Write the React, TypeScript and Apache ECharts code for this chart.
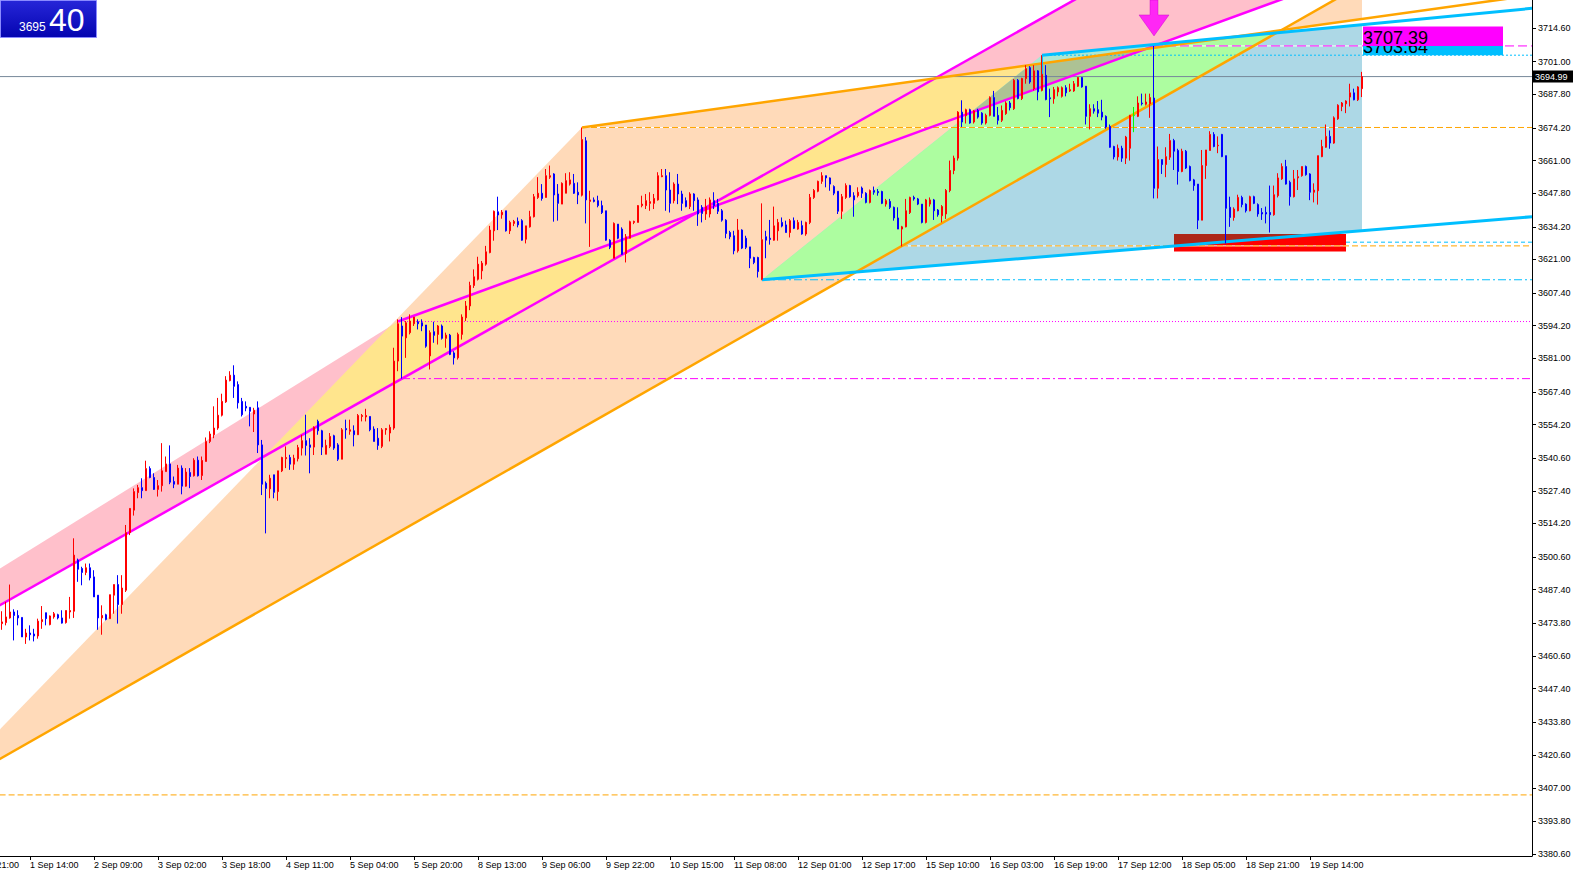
import React, { useEffect, useRef } from "react";
import * as echarts from "echarts";

type P = [number, number];

// H1 candles, [open, close, low, high]
const bars: number[][] = [
  [3473.7, 3474.4, 3471.2, 3478.7], [3474.1, 3476.4, 3473.0, 3482.5], [3476.0, 3478.4, 3475.7, 3489.5], [3478.4, 3477.0, 3466.9, 3479.5],
  [3477.0, 3476.0, 3473.0, 3479.1], [3476.2, 3468.3, 3468.3, 3476.2], [3468.3, 3469.9, 3465.5, 3471.6], [3469.9, 3469.2, 3466.9, 3473.0],
  [3469.5, 3468.7, 3466.5, 3471.6], [3468.7, 3474.7, 3467.6, 3475.7], [3474.5, 3475.3, 3471.6, 3480.8], [3478.1, 3475.7, 3473.0, 3478.1],
  [3473.3, 3476.8, 3473.0, 3477.0], [3476.4, 3477.7, 3475.7, 3478.4], [3477.3, 3476.0, 3475.4, 3477.7], [3476.0, 3473.9, 3473.7, 3479.1],
  [3474.1, 3479.0, 3473.7, 3479.0], [3478.4, 3479.0, 3475.7, 3484.5], [3478.7, 3501.4, 3476.0, 3508.2], [3499.4, 3495.7, 3490.6, 3500.0],
  [3496.0, 3494.4, 3489.2, 3496.7], [3494.4, 3496.3, 3493.3, 3498.0], [3496.3, 3492.2, 3491.2, 3498.0], [3492.6, 3484.5, 3484.5, 3495.3],
  [3485.2, 3476.0, 3471.2, 3485.2], [3476.0, 3477.0, 3469.2, 3481.1], [3477.3, 3475.4, 3475.0, 3477.7], [3475.7, 3485.4, 3475.7, 3485.4],
  [3485.2, 3489.5, 3477.7, 3489.5], [3489.5, 3481.4, 3473.7, 3493.3], [3481.4, 3488.1, 3477.7, 3493.3], [3487.2, 3510.5, 3486.5, 3513.6],
  [3510.5, 3520.3, 3509.5, 3520.3], [3519.6, 3527.1, 3517.4, 3528.4], [3526.7, 3528.7, 3524.4, 3529.8], [3528.7, 3527.5, 3524.4, 3532.5],
  [3527.5, 3536.4, 3527.5, 3539.6], [3536.4, 3532.8, 3532.5, 3537.3], [3532.8, 3528.0, 3527.8, 3534.5], [3528.0, 3529.5, 3525.1, 3531.8],
  [3529.5, 3535.5, 3527.1, 3546.7], [3535.2, 3538.3, 3535.2, 3541.3], [3538.3, 3530.9, 3530.1, 3545.8], [3531.2, 3530.1, 3528.5, 3533.2],
  [3530.1, 3536.6, 3530.1, 3537.9], [3536.6, 3529.3, 3526.0, 3537.7], [3529.3, 3535.0, 3529.1, 3536.6], [3534.8, 3533.2, 3528.5, 3536.6],
  [3533.5, 3539.8, 3533.2, 3540.6], [3539.8, 3533.5, 3533.2, 3541.3], [3533.6, 3539.7, 3531.8, 3541.3], [3539.3, 3547.4, 3539.3, 3549.0],
  [3547.4, 3550.4, 3546.7, 3551.5], [3550.1, 3552.8, 3548.7, 3561.6], [3552.8, 3558.0, 3552.1, 3565.0], [3558.0, 3563.6, 3557.5, 3566.7],
  [3563.4, 3572.2, 3563.0, 3573.8], [3572.0, 3574.2, 3571.7, 3575.8], [3574.2, 3569.7, 3565.0, 3578.2], [3570.4, 3563.0, 3560.7, 3571.7],
  [3563.6, 3558.2, 3557.5, 3565.0], [3561.6, 3560.9, 3559.6, 3563.6], [3561.2, 3559.6, 3553.5, 3561.2], [3558.5, 3560.0, 3551.2, 3561.0],
  [3561.0, 3546.0, 3542.7, 3563.6], [3546.0, 3530.1, 3525.7, 3548.0], [3530.5, 3528.4, 3510.2, 3531.2], [3528.2, 3532.5, 3524.4, 3533.9],
  [3533.9, 3526.8, 3524.4, 3533.9], [3527.1, 3535.5, 3523.4, 3535.5], [3535.5, 3540.9, 3535.0, 3541.2], [3540.4, 3540.9, 3536.6, 3545.4],
  [3540.9, 3538.2, 3535.9, 3542.0], [3538.2, 3540.6, 3535.9, 3542.0], [3540.4, 3544.9, 3539.3, 3546.0], [3544.7, 3547.7, 3541.7, 3550.1],
  [3547.7, 3545.8, 3541.7, 3558.2], [3546.0, 3545.0, 3534.5, 3548.7], [3545.1, 3553.1, 3541.9, 3553.5], [3555.5, 3551.7, 3550.1, 3556.2],
  [3551.7, 3545.1, 3541.9, 3552.1], [3542.2, 3545.8, 3542.2, 3548.1], [3545.4, 3549.4, 3544.7, 3550.8], [3549.7, 3544.7, 3544.0, 3550.1],
  [3546.0, 3540.2, 3539.5, 3546.7], [3540.2, 3552.1, 3540.2, 3552.8], [3552.6, 3552.1, 3548.5, 3556.2], [3551.5, 3552.1, 3550.1, 3556.2],
  [3551.7, 3550.1, 3545.4, 3553.9], [3550.1, 3557.9, 3550.1, 3558.5], [3557.5, 3557.9, 3555.5, 3558.5], [3557.3, 3557.9, 3555.5, 3560.6],
  [3557.5, 3552.1, 3551.5, 3557.5], [3552.4, 3547.4, 3547.4, 3553.5], [3548.7, 3545.8, 3544.0, 3552.8], [3545.4, 3552.1, 3544.7, 3552.8],
  [3552.1, 3552.6, 3550.1, 3552.8], [3550.8, 3553.1, 3547.4, 3554.2], [3552.8, 3579.9, 3552.1, 3585.3], [3579.9, 3595.0, 3575.8, 3596.8],
  [3594.1, 3590.0, 3572.8, 3597.7], [3589.3, 3595.4, 3581.2, 3596.1], [3591.4, 3596.1, 3590.7, 3598.8], [3595.0, 3597.7, 3594.1, 3597.7],
  [3595.8, 3595.0, 3592.7, 3596.8], [3595.4, 3594.1, 3592.0, 3596.8], [3594.5, 3585.9, 3585.3, 3594.5], [3582.0, 3591.4, 3576.5, 3592.3],
  [3591.8, 3590.3, 3587.3, 3595.8], [3590.7, 3594.1, 3586.6, 3594.5], [3594.1, 3589.1, 3588.6, 3594.7], [3589.1, 3590.4, 3585.3, 3591.4],
  [3590.4, 3582.6, 3582.3, 3590.9], [3583.2, 3581.2, 3578.5, 3583.9], [3581.2, 3590.7, 3580.5, 3591.4], [3590.7, 3597.7, 3588.6, 3598.8],
  [3597.4, 3602.2, 3596.1, 3604.2], [3602.2, 3610.5, 3600.5, 3612.0], [3610.5, 3614.0, 3609.5, 3617.0], [3613.0, 3619.1, 3612.5, 3622.1],
  [3616.4, 3619.5, 3613.0, 3620.4], [3619.1, 3624.1, 3618.5, 3626.5], [3623.8, 3632.9, 3623.5, 3634.6], [3632.6, 3640.5, 3628.6, 3640.8],
  [3640.3, 3639.0, 3632.9, 3646.4], [3639.1, 3640.1, 3637.5, 3641.0], [3640.7, 3632.6, 3632.3, 3640.7], [3632.6, 3636.0, 3631.3, 3636.7],
  [3635.6, 3636.4, 3634.5, 3637.0], [3636.4, 3635.0, 3634.0, 3638.0], [3636.7, 3628.8, 3628.6, 3637.3], [3629.2, 3634.6, 3627.5, 3634.6],
  [3634.2, 3638.3, 3633.9, 3640.7], [3638.3, 3646.4, 3638.0, 3647.5], [3646.1, 3647.8, 3645.5, 3654.3], [3647.8, 3645.7, 3644.8, 3651.5],
  [3646.1, 3654.9, 3646.1, 3657.6], [3654.3, 3654.9, 3653.6, 3659.0], [3655.6, 3647.1, 3636.3, 3655.9], [3647.5, 3643.7, 3636.7, 3651.5],
  [3643.4, 3651.8, 3643.4, 3652.2], [3647.8, 3652.9, 3647.8, 3655.9], [3651.5, 3653.2, 3650.9, 3656.3], [3651.8, 3647.8, 3647.5, 3655.6],
  [3648.2, 3647.1, 3643.4, 3652.2], [3647.0, 3669.5, 3646.5, 3674.4], [3669.0, 3645.1, 3635.6, 3670.5], [3644.5, 3645.1, 3626.1, 3648.8],
  [3645.1, 3644.5, 3644.1, 3646.1], [3644.8, 3642.8, 3642.1, 3646.8], [3642.8, 3640.0, 3639.4, 3644.8], [3640.7, 3628.8, 3628.6, 3640.7],
  [3628.8, 3625.9, 3625.2, 3629.2], [3621.5, 3635.6, 3621.5, 3636.0], [3635.3, 3629.6, 3629.2, 3635.3], [3633.3, 3623.1, 3622.9, 3634.0],
  [3623.4, 3630.2, 3619.8, 3631.3], [3629.6, 3636.3, 3629.6, 3636.7], [3636.0, 3636.4, 3635.3, 3636.7], [3636.0, 3642.8, 3636.0, 3643.0],
  [3642.8, 3643.4, 3642.1, 3646.8], [3642.8, 3644.8, 3641.4, 3647.5], [3643.7, 3644.4, 3640.7, 3648.2], [3643.7, 3645.7, 3641.4, 3647.5],
  [3645.1, 3654.9, 3644.8, 3656.3], [3654.5, 3654.9, 3654.3, 3657.6], [3654.9, 3649.1, 3640.7, 3657.6], [3649.1, 3643.7, 3640.0, 3656.3],
  [3644.8, 3651.5, 3643.7, 3652.2], [3651.5, 3647.5, 3643.4, 3655.6], [3647.5, 3643.7, 3640.7, 3648.8], [3644.8, 3642.4, 3642.1, 3646.1],
  [3642.4, 3647.5, 3641.4, 3648.2], [3647.5, 3644.8, 3640.7, 3647.8], [3645.1, 3639.4, 3634.6, 3646.1], [3642.1, 3639.6, 3636.0, 3643.0],
  [3639.4, 3642.4, 3637.0, 3645.5], [3639.4, 3645.1, 3638.0, 3646.1], [3644.8, 3642.8, 3641.4, 3648.2], [3643.7, 3640.5, 3639.4, 3645.5],
  [3640.7, 3636.9, 3636.3, 3641.4], [3636.9, 3631.5, 3629.6, 3637.3], [3631.9, 3630.2, 3629.2, 3632.6], [3630.6, 3624.5, 3623.1, 3632.6],
  [3624.5, 3632.9, 3623.8, 3637.4], [3632.9, 3625.6, 3625.2, 3633.2], [3629.6, 3625.9, 3625.2, 3630.6], [3626.1, 3621.5, 3617.5, 3626.1],
  [3621.8, 3619.8, 3619.1, 3622.1], [3621.8, 3616.1, 3613.7, 3622.1], [3613.0, 3629.0, 3612.6, 3643.7], [3630.2, 3628.8, 3621.5, 3632.6],
  [3629.6, 3629.1, 3627.0, 3637.0], [3628.8, 3634.6, 3628.6, 3642.4], [3632.6, 3636.0, 3628.6, 3637.4], [3636.0, 3634.5, 3634.0, 3638.0],
  [3635.0, 3631.9, 3631.9, 3636.7], [3631.9, 3636.7, 3629.9, 3637.4], [3636.7, 3633.6, 3633.3, 3638.0], [3633.3, 3636.0, 3633.0, 3637.0],
  [3634.7, 3631.3, 3631.0, 3636.7], [3631.3, 3636.0, 3630.6, 3636.3], [3636.0, 3646.1, 3635.3, 3647.5], [3646.1, 3648.9, 3645.5, 3649.5],
  [3648.6, 3652.6, 3648.2, 3652.9], [3652.6, 3654.9, 3651.6, 3656.3], [3654.9, 3654.0, 3650.2, 3654.9], [3654.0, 3651.5, 3648.8, 3654.2],
  [3650.5, 3647.8, 3647.0, 3651.0], [3648.6, 3640.5, 3639.4, 3648.6], [3640.5, 3646.4, 3637.4, 3647.5], [3646.1, 3650.9, 3645.5, 3651.8],
  [3650.9, 3646.4, 3646.0, 3651.2], [3646.8, 3645.1, 3638.3, 3648.2], [3646.8, 3648.2, 3646.1, 3650.2], [3649.9, 3647.8, 3645.9, 3650.5],
  [3647.8, 3644.1, 3643.7, 3648.2], [3644.1, 3648.9, 3643.7, 3649.3], [3648.9, 3648.2, 3647.2, 3650.5], [3648.5, 3648.0, 3646.8, 3649.5],
  [3648.5, 3643.7, 3643.4, 3648.8], [3643.4, 3644.8, 3642.4, 3645.5], [3644.5, 3642.1, 3641.4, 3645.5], [3642.1, 3637.8, 3636.7, 3642.4],
  [3637.8, 3633.3, 3633.3, 3642.1], [3633.3, 3634.2, 3626.3, 3634.6], [3634.2, 3640.7, 3634.0, 3645.5], [3640.0, 3646.1, 3639.4, 3646.4],
  [3646.1, 3645.5, 3644.8, 3646.8], [3645.5, 3643.4, 3643.0, 3645.9], [3643.4, 3636.0, 3635.6, 3643.4], [3636.0, 3645.1, 3635.6, 3645.5],
  [3643.4, 3645.1, 3642.4, 3646.1], [3645.1, 3640.7, 3637.0, 3645.5], [3641.0, 3639.1, 3638.3, 3641.4], [3638.7, 3642.4, 3636.0, 3643.0],
  [3639.4, 3648.9, 3637.4, 3649.5], [3648.9, 3657.0, 3648.2, 3661.0], [3657.0, 3662.0, 3655.5, 3663.0], [3662.0, 3680.6, 3661.0, 3681.0],
  [3680.6, 3676.6, 3674.6, 3685.4], [3679.2, 3681.6, 3676.0, 3682.0], [3681.6, 3676.2, 3675.9, 3682.0], [3676.6, 3681.1, 3676.0, 3681.5],
  [3681.3, 3678.6, 3678.0, 3682.0], [3680.2, 3676.2, 3675.5, 3680.6], [3676.2, 3679.3, 3675.6, 3680.0], [3679.3, 3686.5, 3678.9, 3687.0],
  [3686.5, 3678.9, 3678.9, 3689.2], [3679.3, 3677.3, 3675.6, 3682.7], [3677.3, 3681.3, 3676.6, 3683.3], [3680.0, 3684.3, 3679.5, 3685.0],
  [3684.3, 3682.4, 3681.3, 3685.1], [3682.0, 3693.5, 3681.5, 3694.0], [3693.5, 3686.1, 3685.8, 3694.0], [3686.1, 3694.2, 3685.5, 3694.5],
  [3694.2, 3698.2, 3692.1, 3699.6], [3698.6, 3692.8, 3692.1, 3699.2], [3690.1, 3697.3, 3689.4, 3699.6], [3697.3, 3688.8, 3685.4, 3697.6],
  [3689.4, 3695.9, 3689.0, 3703.6], [3695.5, 3685.7, 3685.4, 3699.6], [3686.4, 3686.0, 3678.6, 3690.1], [3686.0, 3689.7, 3684.0, 3690.8],
  [3688.8, 3690.5, 3687.0, 3691.0], [3687.0, 3690.5, 3686.5, 3691.0], [3690.5, 3688.4, 3687.0, 3691.5], [3689.2, 3689.7, 3688.8, 3692.1],
  [3689.2, 3692.1, 3688.8, 3693.2], [3691.1, 3694.6, 3690.8, 3694.8], [3694.6, 3690.8, 3690.5, 3694.8], [3691.1, 3678.9, 3675.6, 3691.1],
  [3678.9, 3682.0, 3673.6, 3683.8], [3682.0, 3681.0, 3680.0, 3683.8], [3681.6, 3680.2, 3678.6, 3685.1], [3680.6, 3678.6, 3677.3, 3685.6],
  [3678.9, 3674.6, 3673.9, 3679.3], [3674.8, 3666.4, 3666.2, 3675.6], [3666.7, 3662.5, 3661.5, 3667.0], [3662.5, 3666.0, 3661.0, 3667.5],
  [3666.0, 3662.0, 3660.5, 3667.0], [3662.0, 3670.5, 3659.6, 3671.0], [3666.0, 3679.3, 3661.0, 3679.5], [3679.3, 3679.3, 3672.5, 3682.7],
  [3678.9, 3684.3, 3678.6, 3687.0], [3684.3, 3684.0, 3683.3, 3688.1], [3683.8, 3684.7, 3683.3, 3688.1], [3684.0, 3686.5, 3678.3, 3688.1],
  [3686.3, 3649.8, 3645.7, 3707.39], [3649.8, 3661.4, 3645.7, 3666.7], [3661.4, 3659.4, 3655.6, 3661.4], [3659.4, 3662.6, 3654.3, 3666.4],
  [3662.4, 3669.1, 3661.3, 3671.8], [3669.1, 3664.8, 3657.2, 3669.8], [3665.1, 3656.6, 3651.3, 3665.8], [3656.6, 3664.8, 3656.3, 3665.8],
  [3664.8, 3658.0, 3657.6, 3665.3], [3658.6, 3652.9, 3652.6, 3659.0], [3653.2, 3650.9, 3648.8, 3653.6], [3651.5, 3636.9, 3633.3, 3651.5],
  [3636.9, 3659.0, 3636.9, 3665.3], [3659.0, 3665.3, 3653.6, 3665.3], [3665.1, 3671.6, 3665.1, 3672.9], [3671.6, 3666.7, 3666.4, 3672.5],
  [3667.0, 3667.2, 3664.0, 3670.8], [3671.6, 3662.6, 3662.4, 3671.8], [3663.0, 3641.7, 3627.5, 3663.0], [3642.1, 3638.0, 3634.2, 3646.4],
  [3638.0, 3641.4, 3636.7, 3642.1], [3640.7, 3646.1, 3640.5, 3647.2], [3646.1, 3643.2, 3642.1, 3646.8], [3643.4, 3640.7, 3640.0, 3643.7],
  [3640.7, 3646.4, 3640.5, 3646.8], [3646.4, 3643.7, 3643.4, 3646.8], [3643.2, 3639.4, 3638.3, 3643.7], [3640.0, 3639.4, 3637.0, 3641.8],
  [3640.0, 3639.4, 3635.6, 3642.4], [3640.0, 3639.1, 3631.9, 3650.9], [3639.1, 3647.2, 3638.7, 3650.9], [3646.8, 3654.0, 3646.1, 3655.9],
  [3653.6, 3658.6, 3653.2, 3659.9], [3658.6, 3651.5, 3651.3, 3661.3], [3652.2, 3646.4, 3642.8, 3652.9], [3646.4, 3653.6, 3646.1, 3657.2],
  [3654.0, 3654.5, 3649.1, 3657.2], [3654.9, 3658.6, 3654.5, 3658.6], [3658.6, 3655.3, 3654.9, 3659.0], [3655.6, 3648.2, 3645.0, 3655.9],
  [3648.2, 3649.1, 3644.1, 3651.8], [3648.8, 3663.0, 3643.2, 3663.0], [3662.6, 3666.7, 3662.4, 3669.4], [3666.4, 3670.8, 3666.2, 3675.6],
  [3670.8, 3668.1, 3665.8, 3673.2], [3668.1, 3678.3, 3667.8, 3678.9], [3677.9, 3683.4, 3677.5, 3683.8], [3682.9, 3684.3, 3681.0, 3684.7],
  [3684.0, 3685.1, 3680.2, 3685.4], [3686.7, 3688.4, 3682.9, 3692.1], [3688.4, 3685.6, 3685.4, 3690.1], [3685.6, 3690.8, 3685.1, 3691.1],
  [3690.1, 3694.99, 3686.7, 3696.9],
];
const dojiBar = 283;

// time axis
const xTickLabels = [
  "29 Aug 21:00", "1 Sep 14:00", "2 Sep 09:00", "3 Sep 02:00", "3 Sep 18:00", "4 Sep 11:00", "5 Sep 04:00", "5 Sep 20:00",
  "8 Sep 13:00", "9 Sep 06:00", "9 Sep 22:00", "10 Sep 15:00", "11 Sep 08:00", "12 Sep 01:00", "12 Sep 17:00", "15 Sep 10:00",
  "16 Sep 03:00", "16 Sep 19:00", "17 Sep 12:00", "18 Sep 05:00", "18 Sep 21:00", "19 Sep 14:00",
];
const xFirstTickBar = -9;
const xTickStep = 16;
const slotCount = 383;

// price axis
const yTickValues = [
  3714.6, 3701.0, 3687.8, 3674.2, 3661.0, 3647.8, 3634.2, 3621.0, 3607.4, 3594.2, 3581.0, 3567.4, 3554.2,
  3540.6, 3527.4, 3514.2, 3500.6, 3487.4, 3473.8, 3460.6, 3447.4, 3433.8, 3420.6, 3407.0, 3393.8, 3380.6,
];
const yMin = 3379.69;
const yMax = 3725.97;
const bidPrice = 3694.99;
const panelBig = "40";
const panelSmall = "3695";

// drawn pattern anchors [bar index, price]
const orangeA: P = [-16.35, 3404.4];
const orangeB: P = [145, 3674.4];
const orangeD: P = [225, 3626.5];
const orangeE: P = [332, 3716.5];
const magentaStart: P = [99, 3595.9];
const magentaTop: P = [288, 3707.39];
const magentaLowA: P = [-0.5, 3481.2];
const magentaLowB: P = [100, 3572.8];
const pinkEdgePoint: P = [-0.5, 3496.0];
const cyanLow: P = [190, 3612.8];
const cyanHigh: P = [260, 3703.64];
const cyanTopRef: P = [382.5, 3722.6];
const cyanBotRef: P = [382.5, 3638.3];
const redBox: P[] = [[293, 3631.3], [336, 3624.2]];
const fillEnd = 340;

const orangeLevels: P[] = [orangeA, orangeB, orangeD];
const magentaDotLevels: P[] = [magentaStart];
const magentaDashDotLevels: P[] = [magentaLowB];
const magentaDashLevels: P[] = [magentaTop];
const cyanDotLevels: P[] = [cyanHigh];
const cyanDashDotLevels: P[] = [cyanLow];
const cyanDashLevels: P[] = [[336, 3628.0]];
const cyanMarker: P[] = [[260, 3703.64], [260, 3695.5]];

// ---------- helpers ----------
function inter(p1: number[], p2: number[], a: number[], b: number[]): number[] {
  const d1x = p2[0] - p1[0], d1y = p2[1] - p1[1], d2x = b[0] - a[0], d2y = b[1] - a[1];
  const den = d1x * d2y - d1y * d2x;
  const t = ((a[0] - p1[0]) * d2y - (a[1] - p1[1]) * d2x) / den;
  return [p1[0] + t * d1x, p1[1] + t * d1y];
}
function lineAt(a: P, b: P, x: number): number {
  return a[1] + ((b[1] - a[1]) * (x - a[0])) / (b[0] - a[0]);
}
function signedArea(poly: number[][]) {
  let s = 0;
  for (let i = 0; i < poly.length; i++) {
    const a = poly[i], b = poly[(i + 1) % poly.length];
    s += a[0] * b[1] - b[0] * a[1];
  }
  return s / 2;
}
function clipPoly(subject: number[][], clip: number[][]) {
  const sgn = signedArea(clip) > 0 ? 1 : -1;
  let out = subject;
  for (let e = 0; e < clip.length; e++) {
    if (!out.length) break;
    const a = clip[e], b = clip[(e + 1) % clip.length];
    const inside = (p: number[]) => sgn * ((b[0] - a[0]) * (p[1] - a[1]) - (b[1] - a[1]) * (p[0] - a[0])) >= -1e-9;
    const inp = out;
    out = [];
    for (let k = 0; k < inp.length; k++) {
      const cur = inp[k], prev = inp[(k + inp.length - 1) % inp.length];
      const ci = inside(cur), pi = inside(prev);
      if (ci) {
        if (!pi) out.push(inter(prev, cur, a, b));
        out.push(cur);
      } else if (pi) out.push(inter(prev, cur, a, b));
    }
  }
  return out;
}
const rgb = (c: number[]) => `rgb(${c[0]},${c[1]},${c[2]})`;

const PEACH = [255, 218, 185];
const PINK = [255, 192, 203];
const LBLUE = [173, 216, 230];
const RED = [255, 0, 0];

function buildPieces() {
  const X = inter(orangeA, orangeD, orangeB, orangeE);
  const V1 = inter(pinkEdgePoint, magentaStart, magentaLowA, magentaLowB);
  const Y = inter(magentaStart, magentaTop, magentaLowA, magentaLowB);
  return [
    { poly: [orangeA, orangeB, X], color: PEACH },
    { poly: [X, [fillEnd, lineAt(orangeB, orangeE, fillEnd)], [fillEnd, lineAt(orangeA, orangeD, fillEnd)]], color: PEACH },
    { poly: [V1, magentaStart, Y], color: PINK },
    { poly: [Y, [fillEnd, lineAt(magentaStart, magentaTop, fillEnd)], [fillEnd, lineAt(magentaLowA, magentaLowB, fillEnd)]], color: PINK },
    { poly: [cyanLow, cyanHigh, [fillEnd, lineAt(cyanHigh, cyanTopRef, fillEnd)], [fillEnd, lineAt(cyanLow, cyanBotRef, fillEnd)]], color: LBLUE },
    { poly: [[redBox[0][0], redBox[0][1]], [redBox[1][0], redBox[0][1]], [redBox[1][0], redBox[1][1]], [redBox[0][0], redBox[1][1]]], color: RED },
  ];
}

// MT4-style XOR blending of overlapping filled objects
function renderFills(params: any, api: any) {
  const pieces = buildPieces().map((p) => ({ poly: p.poly.map((v: number[]) => api.coord(v)), color: p.color }));
  const n = pieces.length;
  const subsets: number[] = [];
  for (let m = 1; m < 1 << n; m++) subsets.push(m);
  const pc = (m: number) => { let c = 0; while (m) { c += m & 1; m >>= 1; } return c; };
  subsets.sort((a, b) => pc(a) - pc(b) || a - b);
  const children: any[] = [];
  for (const m of subsets) {
    let poly: number[][] | null = null;
    let col = [255, 255, 255];
    for (let k = 0; k < n; k++) {
      if (!(m & (1 << k))) continue;
      poly = poly ? clipPoly(poly, pieces[k].poly) : pieces[k].poly;
      col = col.map((v, j) => v ^ pieces[k].color[j] ^ 255);
      if (poly.length < 3) break;
    }
    if (!poly || poly.length < 3 || Math.abs(signedArea(poly)) < 0.3) continue;
    children.push({ type: "polygon", shape: { points: poly }, style: { fill: rgb(col), stroke: null } });
  }
  return { type: "group", children };
}

export default function App() {
  const ref = useRef<HTMLDivElement>(null);
  useEffect(() => {
    const chart = echarts.init(ref.current as HTMLDivElement, null, { renderer: "svg" });
    const xEnd = slotCount - 0.5;
    const gridRight = 41;
    const gridBottom = 16;
    const isTick = (i: number) => {
      const k = (i - xFirstTickBar) / xTickStep;
      return Number.isInteger(k) && k >= 0 && k < xTickLabels.length;
    };
    const ray = (a: P, b: P, from?: P) => {
      const s = from || a;
      return [s, [xEnd, lineAt(a, b, xEnd)]];
    };
    const lineSeries = (data: any[], color: string, width: number, type: any = "solid", z = 3) => ({
      type: "line",
      xAxisIndex: 1,
      yAxisIndex: 0,
      data,
      showSymbol: false,
      symbol: "none",
      silent: true,
      clip: true,
      z,
      lineStyle: { color, width, type },
    });
    const levelSeries = (lv: P[], color: string, dash: number[], whiteGap: boolean) => {
      const out: any[] = [];
      lv.forEach((p) => {
        const d = [[p[0], p[1]], [xEnd, p[1]]];
        if (whiteGap) out.push(lineSeries(d, "#ffffff", 1, "solid", 2));
        out.push(lineSeries(d, color, 1, dash, 2));
      });
      return out;
    };
    const V1 = inter(pinkEdgePoint, magentaStart, magentaLowA, magentaLowB) as P;

    const option: any = {
      animation: false,
      backgroundColor: "#ffffff",
      textStyle: { fontFamily: "Liberation Sans" },
      grid: { left: 0, top: 0, right: gridRight, bottom: gridBottom, containLabel: false, outerBoundsMode: "none" },
      xAxis: [
        {
          type: "category",
          data: Array.from({ length: slotCount }, (_, i) => String(i)),
          boundaryGap: true,
          axisLine: { show: true, lineStyle: { color: "#000", width: 1 } },
          axisTick: { show: true, alignWithLabel: true, interval: (i: number) => isTick(i), length: 4, lineStyle: { color: "#000" } },
          axisLabel: {
            interval: (i: number) => isTick(i),
            formatter: (_v: string, i: number) => (isTick(i) ? xTickLabels[(i - xFirstTickBar) / xTickStep] : ""),
            align: "left",
            margin: 4,
            color: "#000",
            fontSize: 9,
            fontFamily: "Liberation Sans",
          },
          splitLine: { show: false },
        },
        { type: "value", min: -0.5, max: xEnd, show: false, gridIndex: 0 },
      ],
      yAxis: [
        {
          type: "value",
          position: "right",
          min: yMin,
          max: yMax,
          scale: true,
          splitLine: { show: false },
          axisLine: { show: true, onZero: false, lineStyle: { color: "#000", width: 1 } },
          axisTick: { show: true, customValues: yTickValues, length: 4, lineStyle: { color: "#000" } },
          axisLabel: {
            customValues: yTickValues,
            formatter: (v: number) => v.toFixed(2),
            color: "#000",
            fontSize: 9,
            fontFamily: "Liberation Sans",
            margin: 6,
          },
        },
      ],
      series: [
        { type: "custom", xAxisIndex: 1, yAxisIndex: 0, renderItem: renderFills, data: [[0, 3500]], clip: true, silent: true, z: 1 },
        ...levelSeries(orangeLevels, "#FFA500", [6, 3], true),
        ...levelSeries(magentaDotLevels, "#FF00FF", [1, 2], false),
        ...levelSeries(magentaDashDotLevels, "#FF00FF", [8, 3, 2, 3], false),
        ...levelSeries(magentaDashLevels, "#FF00FF", [9, 4], true),
        ...levelSeries(cyanDotLevels, "#00BFFF", [2, 2], false),
        ...levelSeries(cyanDashDotLevels, "#00BFFF", [8, 3, 2, 3], false),
        ...levelSeries(cyanDashLevels, "#00BFFF", [4, 3], true),
        lineSeries([[-0.5, bidPrice], [xEnd, bidPrice]], "#778899", 1, "solid", 3),
        lineSeries(ray(magentaStart, magentaTop), "#FF00FF", 2.5),
        lineSeries(ray(magentaLowA, magentaLowB, V1), "#FF00FF", 2.5),
        lineSeries(ray(orangeA, orangeD), "#FFA500", 2.5),
        lineSeries(ray(orangeB, orangeE), "#FFA500", 2.5),
        lineSeries(ray(cyanHigh, cyanTopRef), "#00BFFF", 3),
        lineSeries(ray(cyanLow, cyanBotRef), "#00BFFF", 3),
        lineSeries(cyanMarker, "#00BFFF", 2),
        {
          type: "candlestick",
          xAxisIndex: 0,
          yAxisIndex: 0,
          barWidth: 2,
          silent: true,
          z: 4,
          itemStyle: { color: "#FF0000", color0: "#0000FF", borderColor: "#FF0000", borderColor0: "#0000FF", borderWidth: 1 },
          data: bars.map((b, i) =>
            i === dojiBar
              ? { value: b, itemStyle: { color: "#00FF00", color0: "#00FF00", borderColor: "#00FF00", borderColor0: "#00FF00" } }
              : b
          ),
        },
        {
          type: "scatter",
          xAxisIndex: 1,
          yAxisIndex: 0,
          data: [magentaTop],
          symbol: "path://M11,0 L19,0 L19,15 L30,15 L15,36 L0,15 L11,15 Z",
          symbolSize: [30, 36],
          symbolOffset: [0, -28],
          itemStyle: { color: "#FF00FF", borderColor: "#C000C0", borderWidth: 0.5 },
          silent: true,
          z: 6,
        },
      ],
    };
    chart.setOption(option);

    const xPx = (i: number) => chart.convertToPixel({ xAxisIndex: 1 }, i) as number;
    const yPx = (p: number) => chart.convertToPixel({ yAxisIndex: 0 }, p) as number;
    const tick0 = xPx(xFirstTickBar + xTickStep);
    const tick1 = xPx(xFirstTickBar + 2 * xTickStep);
    const firstTickX = tick0 - (tick1 - tick0);
    const boxX = xPx(fillEnd) + 1;
    const magY = yPx(magentaTop[1]);
    const cyaY = yPx(cyanHigh[1]);
    const bidY = yPx(bidPrice);
    const axisX = 1573 - gridRight;
    const axisY = 872 - gridBottom;

    chart.setOption({
      graphic: [
        {
          type: "text",
          x: firstTickX,
          y: axisY + 4,
          style: { text: xTickLabels[0], fill: "#000", font: '9px "Liberation Sans"', align: "left", verticalAlign: "top" },
          z: 10,
        },
        { type: "rect", shape: { x: boxX, y: cyaY - 19.5, width: 140, height: 19.5 }, style: { fill: "#00BFFF" }, z: 20 },
        {
          type: "text",
          x: boxX,
          y: cyaY + 1,
          style: { text: cyanHigh[1].toFixed(2), fill: "#000", font: '18px "Liberation Sans"', align: "left", verticalAlign: "bottom" },
          z: 21,
        },
        { type: "rect", shape: { x: boxX, y: magY - 19.5, width: 140, height: 19.5 }, style: { fill: "#FF00FF" }, z: 22 },
        {
          type: "text",
          x: boxX,
          y: magY + 1,
          style: { text: magentaTop[1].toFixed(2), fill: "#000", font: '18px "Liberation Sans"', align: "left", verticalAlign: "bottom" },
          z: 23,
        },
        { type: "rect", shape: { x: axisX + 1, y: bidY - 6, width: 40, height: 12 }, style: { fill: "#000" }, z: 24 },
        {
          type: "text",
          x: axisX + 3,
          y: bidY,
          style: { text: bidPrice.toFixed(2), fill: "#fff", font: '9px "Liberation Sans"', align: "left", verticalAlign: "middle" },
          z: 25,
        },
        {
          type: "rect",
          shape: { x: 0.5, y: 0.5, width: 96, height: 37 },
          style: {
            fill: new echarts.graphic.LinearGradient(0, 0, 0, 1, [
              { offset: 0, color: "#2626d8" },
              { offset: 1, color: "#0404b0" },
            ]),
            stroke: "#8a8aff",
            lineWidth: 1,
          },
          z: 30,
        },
        {
          type: "text",
          x: 19,
          y: 33,
          style: { text: panelSmall, fill: "#fff", font: '12px "Liberation Sans"', align: "left", verticalAlign: "bottom" },
          z: 31,
        },
        {
          type: "text",
          x: 49,
          y: 36,
          style: { text: panelBig, fill: "#fff", font: '32px "Liberation Sans"', align: "left", verticalAlign: "bottom" },
          z: 31,
        },
      ],
    });
    return () => chart.dispose();
  }, []);
  return (
    <div
      ref={ref}
      style={{ position: "fixed", left: 0, top: 0, width: 1573, height: 872, background: "#ffffff" }}
    />
  );
}
